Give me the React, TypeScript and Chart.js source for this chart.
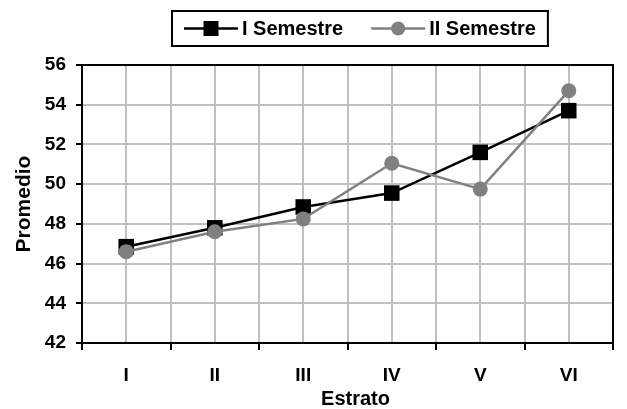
import React, { useEffect, useRef } from 'react';
import { Chart, registerables } from 'chart.js';

Chart.register(...registerables);

const categories = ['I', 'II', 'III', 'IV', 'V', 'VI'];
const semestre1 = [46.85, 47.8, 48.85, 49.55, 51.6, 53.7];
const semestre2 = [46.6, 47.6, 48.25, 51.05, 49.75, 54.7];
const seriesNames = ['I Semestre', 'II Semestre'];
const yMin = 42;
const yMax = 56;
const yStep = 2;
const xTitle = 'Estrato';
const yTitle = 'Promedio';

const FONT = '"Liberation Sans", Arial, Helvetica, sans-serif';
const BLACK = '#000000';
const GRAY = '#808080';
const GRID = '#c0c0c0';

const framePlugin = {
  id: 'frame',
  beforeDatasetsDraw(chart: any) {
    const { ctx, chartArea } = chart;
    ctx.save();
    ctx.strokeStyle = BLACK;
    ctx.lineWidth = 2;
    ctx.strokeRect(chartArea.left, chartArea.top, chartArea.right - chartArea.left, chartArea.bottom - chartArea.top);
    ctx.restore();
  },
};

const xTitlePlugin = {
  id: 'xTitle',
  afterDraw(chart: any) {
    const { ctx, chartArea, height } = chart;
    ctx.save();
    ctx.font = 'bold 20px ' + FONT;
    ctx.fillStyle = BLACK;
    ctx.textAlign = 'center';
    ctx.textBaseline = 'middle';
    ctx.fillText(xTitle, (chartArea.left + chartArea.right) / 2 + 8, height - 10);
    ctx.restore();
  },
};

const legendPlugin = {
  id: 'boxLegend',
  afterDraw(chart: any) {
    const { ctx, chartArea } = chart;
    ctx.save();
    ctx.font = 'bold 20px ' + FONT;
    const lineLen = 54;
    const gapText = 4;
    const itemGap = 28;
    const padX = 12;
    const boxTop = 11;
    const boxH = 35;
    const styles = [
      { color: BLACK, shape: 'rect' },
      { color: GRAY, shape: 'circle' },
    ];
    const widths = seriesNames.map((n) => ctx.measureText(n).width);
    const total = padX * 2 + widths.reduce((a, w) => a + lineLen + gapText + w, 0) + itemGap * (seriesNames.length - 1);
    const center = (chartArea.left + chartArea.right) / 2 + 12;
    const left = Math.round(center - total / 2);
    ctx.fillStyle = '#ffffff';
    ctx.fillRect(left, boxTop, total, boxH);
    ctx.strokeStyle = BLACK;
    ctx.lineWidth = 2;
    ctx.strokeRect(left, boxTop, total, boxH);
    const cy = boxTop + boxH / 2;
    let x = left + padX;
    seriesNames.forEach((name, i) => {
      const st = styles[i];
      ctx.strokeStyle = st.color;
      ctx.lineWidth = 2.5;
      ctx.beginPath();
      ctx.moveTo(x, cy);
      ctx.lineTo(x + lineLen, cy);
      ctx.stroke();
      ctx.fillStyle = st.color;
      const mx = x + lineLen / 2;
      if (st.shape === 'rect') {
        ctx.fillRect(mx - 7.5, cy - 7.5, 15, 15);
      } else {
        ctx.beginPath();
        ctx.arc(mx, cy, 7, 0, Math.PI * 2);
        ctx.fill();
      }
      ctx.fillStyle = BLACK;
      ctx.textBaseline = 'middle';
      ctx.textAlign = 'left';
      ctx.fillText(name, x + lineLen + gapText, cy + 1);
      x += lineLen + gapText + widths[i] + itemGap;
    });
    ctx.restore();
  },
};

export default function App() {
  const ref = useRef<HTMLCanvasElement>(null);
  useEffect(() => {
    if (!ref.current) return;
    const chart = new Chart(ref.current, {
      type: 'line',
      data: {
        datasets: [
          {
            label: seriesNames[0],
            data: semestre1.map((v, i) => ({ x: i, y: v })),
            borderColor: BLACK,
            backgroundColor: BLACK,
            borderWidth: 2.5,
            pointStyle: 'rect',
            pointRadius: 11,
            pointBorderWidth: 0,
            pointBackgroundColor: BLACK,
            order: 1,
            tension: 0,
          },
          {
            label: seriesNames[1],
            data: semestre2.map((v, i) => ({ x: i, y: v })),
            borderColor: GRAY,
            backgroundColor: GRAY,
            borderWidth: 2.5,
            pointStyle: 'circle',
            pointRadius: 7.5,
            pointBorderWidth: 0,
            pointBackgroundColor: GRAY,
            order: 0,
            tension: 0,
          },
        ],
      },
      options: {
        responsive: false,
        maintainAspectRatio: false,
        animation: false,
        layout: { padding: { top: 65, right: 9, bottom: 0, left: 0 } },
        plugins: {
          legend: { display: false },
          tooltip: { enabled: false },
          title: { display: false },
        },
        scales: {
          x: {
            type: 'linear',
            min: -0.5,
            max: categories.length - 0.5,
            afterFit: (s: any) => {
              s.height = 66;
            },
            ticks: {
              stepSize: 0.5,
              autoSkip: false,
              maxRotation: 0,
              padding: 14,
              color: BLACK,
              font: { family: FONT, size: 19, weight: 'bold' },
              callback: (v: any) => {
                const n = Number(v);
                return Number.isInteger(n) && categories[n] !== undefined ? categories[n] : '';
              },
            },
            grid: {
              color: GRID,
              lineWidth: 2,
              tickLength: 7,
              tickColor: (c: any) => (c.tick && Math.abs(c.tick.value % 1) > 0.01 ? BLACK : 'rgba(0,0,0,0)'),
              tickWidth: 2,
            },
            border: { color: BLACK, width: 2 },
            title: { display: false },
          },
          y: {
            min: yMin,
            max: yMax,
            afterFit: (s: any) => {
              s.width = 82;
            },
            ticks: {
              stepSize: yStep,
              padding: 10,
              color: BLACK,
              font: { family: FONT, size: 19, weight: 'bold' },
            },
            grid: {
              color: GRID,
              lineWidth: 2,
              tickLength: 6,
              tickColor: BLACK,
              tickWidth: 2,
            },
            border: { color: BLACK, width: 2 },
            title: {
              display: true,
              text: yTitle,
              color: BLACK,
              font: { family: FONT, size: 21, weight: 'bold', lineHeight: 1 },
              padding: { top: 14, bottom: 0 },
            },
          },
        },
      },
      plugins: [framePlugin, legendPlugin, xTitlePlugin],
    });
    return () => chart.destroy();
  }, []);
  return (
    <div style={{ position: 'fixed', left: 0, top: 0, width: 627, height: 409, background: '#ffffff' }}>
      <canvas ref={ref} width={627} height={409} style={{ display: 'block' }} />
    </div>
  );
}
